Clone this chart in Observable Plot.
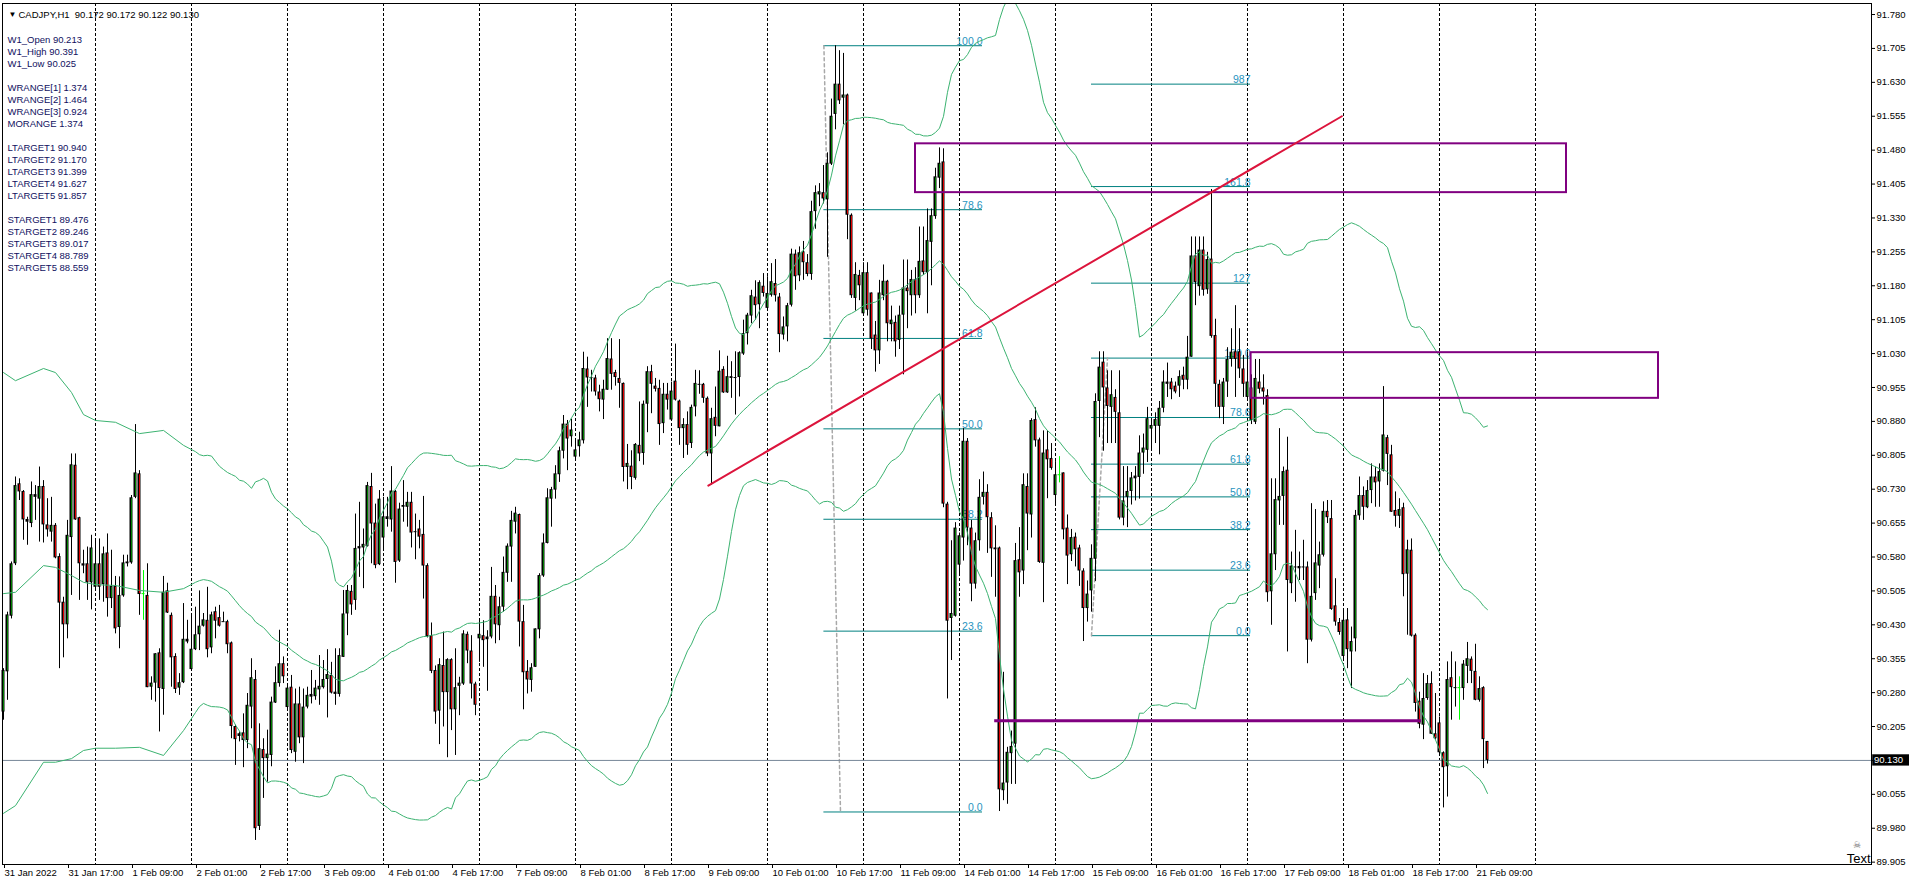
<!DOCTYPE html>
<html><head><meta charset="utf-8">
<script src="https://cdn.jsdelivr.net/npm/d3@7"></script>
<script src="https://cdn.jsdelivr.net/npm/@observablehq/plot@0.6"></script>
<style>
html,body{margin:0;padding:0;background:#fff;}
#chart{width:1912px;height:885px;}
</style></head><body><div id="chart"></div>
<script>
// ---------- DATA (CADJPY H1, bar index 0 = 31 Jan 2022) ----------
const opens = [
90.237,90.326,90.449,90.565,90.742,90.725,90.663,90.654,90.712,90.708,
90.736,90.651,90.635,90.650,90.581,90.480,90.430,90.623,90.783,90.667,
90.565,90.565,90.523,90.513,90.565,90.519,90.589,90.488,90.515,90.424,
90.494,90.569,90.567,90.712,90.764,90.499,90.495,90.292,90.301,90.368,
90.287,90.505,90.451,90.360,90.290,90.302,90.398,90.331,90.375,90.408,
90.427,90.440,90.379,90.459,90.446,90.438,90.437,90.390,90.205,90.183,
90.191,90.174,90.248,90.309,89.984,90.154,90.134,90.141,90.257,90.300,
90.344,90.247,90.292,90.148,90.255,90.180,90.248,90.270,90.271,90.286,
90.291,90.309,90.318,90.281,90.276,90.358,90.454,90.504,90.484,90.598,
90.600,90.603,90.736,90.655,90.563,90.622,90.663,90.662,90.725,90.571,
90.690,90.690,90.701,90.636,90.642,90.630,90.561,90.406,90.329,90.239,
90.340,90.280,90.353,90.242,90.294,90.299,90.409,90.372,90.299,90.399,
90.406,90.397,90.403,90.493,90.428,90.469,90.544,90.602,90.657,90.674,
90.437,90.327,90.307,90.336,90.419,90.538,90.610,90.708,90.728,90.762,
90.814,90.874,90.846,90.801,90.824,90.837,90.996,90.977,90.976,90.945,
90.927,90.949,91.018,90.988,90.975,90.964,90.778,90.781,90.754,90.827,
90.809,90.918,90.990,90.958,90.953,90.875,90.940,90.883,90.969,90.925,
90.864,90.873,90.831,90.912,90.962,90.962,90.931,90.808,90.889,90.868,
90.995,90.943,90.975,90.977,90.977,91.029,91.074,91.113,91.155,91.138,
91.179,91.130,91.159,91.185,91.155,91.071,91.089,91.137,91.250,91.202,
91.255,91.231,91.205,91.344,91.381,91.386,91.370,91.449,91.559,91.626,
91.595,91.602,91.336,91.152,91.203,91.118,91.209,91.164,91.071,91.036,
91.158,91.190,91.094,91.099,91.059,91.115,91.175,91.158,91.194,91.158,
91.235,91.209,91.276,91.333,91.418,91.454,90.697,90.444,90.449,90.562,
90.622,90.836,90.644,90.520,90.616,90.712,90.723,90.667,90.600,90.600,
90.063,90.080,90.145,90.166,90.574,90.549,90.736,90.673,90.884,90.839,
90.566,90.817,90.798,90.716,90.762,90.766,90.644,90.585,90.624,90.600,
90.549,90.466,90.505,90.575,90.924,91.011,90.954,90.911,90.933,90.899,
90.666,90.712,90.725,90.759,90.756,90.810,90.816,90.863,90.869,90.869,
90.909,90.967,90.967,90.958,90.958,90.982,90.971,91.022,91.246,91.178,
91.259,91.171,91.239,91.070,90.962,90.911,90.967,91.017,91.034,91.034,
90.996,90.933,90.954,90.878,90.967,90.954,90.937,90.503,90.585,90.704,
90.714,90.772,90.521,90.559,90.559,90.558,90.558,90.396,90.499,90.560,
90.584,90.681,90.665,90.472,90.435,90.360,90.441,90.370,90.399,90.671,
90.716,90.689,90.727,90.757,90.746,90.770,90.844,90.806,90.683,90.670,
90.689,90.542,90.595,90.407,90.261,90.208,90.267,90.300,90.189,90.213,
90.147,90.116,90.313,90.293,90.291,90.289,90.338,90.354,90.327,90.263,
90.291,90.172];
const highs = [
90.333,90.458,90.569,90.757,90.753,90.727,90.668,90.746,90.738,90.779,
90.749,90.709,90.712,90.654,90.587,90.491,90.661,90.808,90.808,90.668,
90.595,90.602,90.628,90.620,90.620,90.602,90.631,90.595,90.537,90.536,
90.584,90.584,90.716,90.873,90.771,90.550,90.565,90.315,90.366,90.377,
90.537,90.522,90.456,90.366,90.322,90.477,90.440,90.451,90.469,90.505,
90.455,90.513,90.458,90.469,90.473,90.458,90.440,90.392,90.208,90.193,
90.233,90.278,90.355,90.329,90.211,90.178,90.197,90.270,90.337,90.418,
90.359,90.300,90.318,90.288,90.292,90.288,90.292,90.329,90.307,90.362,
90.351,90.375,90.347,90.377,90.377,90.506,90.517,90.517,90.675,90.701,
90.642,90.745,90.765,90.697,90.727,90.712,90.712,90.780,90.727,90.699,
90.749,90.723,90.723,90.675,90.661,90.714,90.565,90.434,90.339,90.355,
90.414,90.355,90.355,90.377,90.314,90.417,90.414,90.406,90.303,90.439,
90.439,90.417,90.557,90.517,90.491,90.580,90.609,90.681,90.690,90.675,
90.473,90.351,90.344,90.421,90.543,90.631,90.731,90.734,90.782,90.823,
90.893,90.882,90.885,90.837,90.856,91.033,91.022,90.993,90.982,90.960,
90.971,91.063,91.063,90.993,91.061,90.965,90.829,90.815,90.831,90.923,
90.925,91.001,91.004,90.975,90.971,90.964,90.964,90.967,91.051,90.927,
90.886,90.901,90.916,90.993,90.992,90.964,90.934,90.909,90.956,91.036,
91.001,91.024,91.012,91.034,91.034,91.104,91.119,91.170,91.191,91.191,
91.207,91.200,91.229,91.238,91.163,91.111,91.141,91.261,91.259,91.266,
91.278,91.249,91.367,91.401,91.406,91.446,91.474,91.593,91.711,91.700,
91.694,91.604,91.339,91.231,91.214,91.231,91.231,91.164,91.101,91.192,
91.226,91.192,91.135,91.113,91.135,91.237,91.237,91.214,91.220,91.310,
91.310,91.350,91.350,91.440,91.485,91.483,90.701,90.616,90.656,90.633,
90.864,90.842,90.661,90.633,90.751,90.768,90.740,90.678,90.649,90.602,
90.325,90.159,90.195,90.610,90.645,90.764,90.764,90.886,90.910,90.843,
90.859,90.859,90.831,90.791,90.802,90.766,90.673,90.641,90.633,90.606,
90.554,90.527,90.607,90.941,91.034,91.034,90.992,90.992,90.950,90.992,
90.780,90.780,90.767,90.780,90.848,90.852,90.911,90.882,90.899,90.924,
90.992,91.009,90.975,90.967,90.992,91.000,91.068,91.288,91.288,91.288,
91.288,91.254,91.393,91.106,90.971,90.975,91.043,91.085,91.136,91.085,
91.026,91.034,90.983,91.017,91.017,90.983,90.950,90.753,90.753,90.864,
90.779,90.845,90.591,90.639,90.591,90.617,90.569,90.698,90.685,90.613,
90.702,90.705,90.705,90.532,90.444,90.466,90.466,90.425,90.683,90.757,
90.735,90.749,90.786,90.779,90.786,90.957,90.849,90.827,90.724,90.709,
90.699,90.617,90.620,90.410,90.281,90.322,90.318,90.326,90.278,90.226,
90.149,90.348,90.370,90.348,90.315,90.351,90.391,90.359,90.387,90.315,
90.293,90.172];
const lows = [
90.219,90.263,90.443,90.561,90.705,90.617,90.606,90.645,90.661,90.613,
90.611,90.624,90.613,90.576,90.333,90.357,90.399,90.495,90.661,90.484,
90.543,90.484,90.463,90.510,90.484,90.480,90.447,90.466,90.410,90.377,
90.491,90.558,90.564,90.709,90.451,90.440,90.291,90.263,90.259,90.193,
90.230,90.455,90.292,90.278,90.274,90.300,90.388,90.329,90.373,90.373,
90.425,90.357,90.366,90.399,90.425,90.436,90.366,90.178,90.119,90.171,
90.114,90.156,90.200,89.953,89.975,90.046,90.082,90.116,90.256,90.292,
90.300,90.241,90.145,90.126,90.167,90.123,90.244,90.255,90.263,90.252,
90.288,90.224,90.277,90.252,90.270,90.358,90.406,90.451,90.462,90.535,
90.510,90.602,90.565,90.554,90.561,90.594,90.646,90.635,90.522,90.568,
90.657,90.646,90.600,90.574,90.598,90.487,90.401,90.322,90.210,90.165,
90.204,90.136,90.196,90.141,90.229,90.296,90.344,90.266,90.229,90.347,
90.336,90.283,90.399,90.388,90.395,90.458,90.524,90.524,90.631,90.381,
90.242,90.277,90.281,90.336,90.399,90.535,90.609,90.646,90.708,90.745,
90.797,90.771,90.823,90.793,90.801,90.830,90.911,90.945,90.936,90.901,
90.884,90.949,90.949,90.958,90.909,90.746,90.729,90.729,90.750,90.791,
90.783,90.855,90.897,90.945,90.827,90.853,90.905,90.881,90.925,90.827,
90.798,90.805,90.820,90.890,90.940,90.920,90.802,90.739,90.846,90.868,
90.942,90.942,90.931,90.894,90.934,91.026,91.049,91.096,91.104,91.085,
91.155,91.126,91.155,91.144,91.032,91.060,91.056,91.133,91.170,91.189,
91.192,91.200,91.192,91.305,91.355,91.361,91.243,91.446,91.525,91.581,
91.536,91.282,91.152,91.124,91.147,91.113,91.113,91.039,90.989,91.006,
91.147,91.056,91.056,91.022,91.039,90.983,91.085,91.113,91.118,91.152,
91.203,91.118,91.180,91.327,91.395,90.689,90.266,90.351,90.447,90.543,
90.571,90.605,90.481,90.509,90.593,90.695,90.588,90.535,90.491,90.017,
90.041,90.033,90.077,90.077,90.491,90.519,90.594,90.622,90.823,90.566,
90.479,90.709,90.772,90.697,90.744,90.618,90.519,90.570,90.558,90.515,
90.393,90.436,90.458,90.526,90.844,90.814,90.831,90.831,90.831,90.662,
90.649,90.645,90.695,90.704,90.708,90.763,90.789,90.814,90.831,90.806,
90.899,90.933,90.928,90.941,90.933,90.950,90.950,91.022,91.136,91.157,
91.157,91.161,91.064,90.911,90.886,90.873,90.933,91.000,90.933,90.975,
90.933,90.924,90.873,90.873,90.941,90.916,90.480,90.429,90.550,90.650,
90.650,90.370,90.499,90.480,90.528,90.528,90.344,90.392,90.484,90.510,
90.580,90.654,90.462,90.427,90.407,90.355,90.333,90.289,90.370,90.661,
90.661,90.687,90.698,90.690,90.690,90.768,90.738,90.679,90.646,90.643,
90.492,90.407,90.403,90.237,90.200,90.176,90.263,90.188,90.175,90.141,
90.025,90.049,90.219,90.248,90.219,90.263,90.300,90.300,90.262,90.259,
90.112,90.122];
const closes = [
90.329,90.452,90.565,90.738,90.724,90.662,90.657,90.718,90.718,90.736,
90.651,90.640,90.650,90.578,90.478,90.430,90.628,90.784,90.662,90.565,
90.560,90.523,90.600,90.565,90.513,90.587,90.488,90.515,90.421,90.495,
90.567,90.565,90.711,90.766,90.497,90.499,90.291,90.301,90.366,90.289,
90.502,90.456,90.357,90.287,90.302,90.398,90.392,90.376,90.408,90.427,
90.441,90.375,90.452,90.438,90.427,90.437,90.386,90.205,90.176,90.189,
90.174,90.252,90.313,89.979,90.156,90.134,90.144,90.259,90.302,90.344,
90.315,90.290,90.152,90.255,90.180,90.248,90.274,90.276,90.290,90.294,
90.309,90.320,90.279,90.276,90.362,90.454,90.506,90.474,90.599,90.603,
90.608,90.738,90.653,90.561,90.708,90.669,90.669,90.726,90.568,90.686,
90.694,90.701,90.633,90.636,90.624,90.560,90.404,90.327,90.237,90.342,
90.280,90.353,90.242,90.291,90.301,90.410,90.372,90.299,90.252,90.409,
90.395,90.403,90.493,90.430,90.470,90.546,90.604,90.661,90.677,90.436,
90.324,90.308,90.335,90.421,90.539,90.611,90.711,90.729,90.764,90.815,
90.874,90.841,90.861,90.817,90.839,90.997,90.976,90.977,90.945,90.928,
90.951,91.019,90.984,90.977,90.964,90.778,90.787,90.756,90.829,90.808,
90.918,90.990,90.962,90.951,90.873,90.940,90.927,90.947,90.927,90.864,
90.873,90.827,90.911,90.964,90.962,90.931,90.808,90.886,90.869,90.991,
90.943,90.979,90.979,90.977,91.032,91.074,91.115,91.158,91.136,91.187,
91.163,91.163,91.189,91.158,91.072,91.089,91.136,91.250,91.200,91.253,
91.231,91.205,91.344,91.386,91.388,91.372,91.451,91.555,91.626,91.589,
91.602,91.336,91.158,91.205,91.180,91.209,91.126,91.062,91.036,91.164,
91.190,91.096,91.104,91.056,91.115,91.175,91.167,91.194,91.158,91.234,
91.209,91.280,91.335,91.421,91.451,90.697,90.438,90.455,90.644,90.627,
90.836,90.644,90.520,90.616,90.712,90.723,90.667,90.598,90.596,90.065,
90.080,90.148,90.161,90.572,90.545,90.740,90.675,90.882,90.837,90.568,
90.810,90.795,90.776,90.762,90.762,90.640,90.582,90.623,90.596,90.549,
90.466,90.498,90.577,90.924,91.000,90.954,90.913,90.939,90.900,90.666,
90.704,90.725,90.755,90.753,90.810,90.821,90.886,90.871,90.884,90.909,
90.967,90.962,90.950,90.945,90.979,90.971,91.022,91.246,91.187,91.259,
91.170,91.238,91.068,90.962,90.911,90.967,91.017,91.033,91.017,90.996,
90.962,90.967,90.882,90.975,90.951,90.945,90.501,90.587,90.707,90.714,
90.769,90.528,90.560,90.558,90.554,90.558,90.396,90.493,90.567,90.585,
90.681,90.667,90.464,90.436,90.413,90.440,90.375,90.393,90.672,90.716,
90.690,90.727,90.757,90.744,90.769,90.850,90.807,90.679,90.670,90.685,
90.541,90.596,90.405,90.256,90.210,90.267,90.300,90.188,90.178,90.147,
90.114,90.309,90.291,90.291,90.291,90.343,90.355,90.327,90.263,90.289,
90.176,90.130];
const limeDojiBars = [35, 264, 364];

// time axis
const xLabelBars = [0,16,32,48,64,80,96,112,128,144,160,176,192,208,224,240,256,272,288,304,320,336,352,368];
const xLabels = ["31 Jan 2022","31 Jan 17:00","1 Feb 09:00","2 Feb 01:00","2 Feb 17:00","3 Feb 09:00",
  "4 Feb 01:00","4 Feb 17:00","7 Feb 09:00","8 Feb 01:00","8 Feb 17:00","9 Feb 09:00","10 Feb 01:00",
  "10 Feb 17:00","11 Feb 09:00","14 Feb 01:00","14 Feb 17:00","15 Feb 09:00","16 Feb 01:00","16 Feb 17:00",
  "17 Feb 09:00","18 Feb 01:00","18 Feb 17:00","21 Feb 09:00"];
const gridBars = [23,47,71,95,119,143,167,191,215,239,263,287,311,335,359,383];
// price axis
const yTicks = [89.905,89.980,90.055,90.130,90.205,90.280,90.355,90.430,90.505,90.580,90.655,90.730,
  90.805,90.880,90.955,91.030,91.105,91.180,91.255,91.330,91.405,91.480,91.555,91.630,91.705,91.780];

// Bollinger bands (50, 2): first bars, rest from the closes
const bandPeriod = 50, bandDev = 2;
const bandStartBars   = [0, 3, 10, 13, 17, 20, 23, 28, 34, 40, 45, 48];
const bandStartUpper  = [90.988,90.970,90.997,90.988,90.944,90.895,90.882,90.878,90.853,90.860,90.827,90.813];
const bandStartMiddle = [90.499,90.502,90.561,90.557,90.539,90.524,90.519,90.517,90.506,90.502,90.510,90.524];
const bandStartLower  = [90.013,90.030,90.126,90.126,90.134,90.152,90.157,90.157,90.159,90.141,90.196,90.236];

// Fibonacci retracements
const fib1Ratios = [0, 23.6, 38.2, 50, 61.8, 78.6, 100];
const fib1Labels = ["0.0","23.6","38.2","50.0","61.8","78.6","100.0"];
const fib1High = 91.711, fib1Low = 90.016;
const fib1Bars = [205.1, 244.75];
const fib1AnchorBars = [205.1, 209.25];
const fib2Ratios = [0, 23.6, 38.2, 50, 61.8, 78.6, 100, 127, 161.8, 198.7];
const fib2Labels = ["0.0","23.6","38.2","50.0","61.8","78.6","100.0","127","161.8","987"];
const fib2High = 91.020, fib2Low = 90.406;
const fib2Bars = [272, 311.75];
const fib2AnchorBars = [272, 276];

// drawn objects
const trendBars = [176.2, 334.6], trendPrices = [90.738, 91.555];
const zone1Bars = [228, 390.75], zone1Prices = [91.386, 91.494];
const zone2Bars = [311.9, 413.75], zone2Prices = [90.931, 91.032];
const supportBars = [247.8, 354.5], supportPrice = 90.218;

const headerText = "CADJPY,H1\u00a0\u00a090.172 90.172 90.122 90.130";
const commentLines = ["W1_Open 90.213","W1_High 90.391","W1_Low 90.025","",
  "WRANGE[1] 1.374","WRANGE[2] 1.464","WRANGE[3] 0.924","MORANGE 1.374","",
  "LTARGET1 90.940","LTARGET2 91.170","LTARGET3 91.399","LTARGET4 91.627","LTARGET5 91.857","",
  "STARGET1 89.476","STARGET2 89.246","STARGET3 89.017","STARGET4 88.789","STARGET5 88.559"];

// ---------- BUILD ----------
const bars = d3.range(opens.length).map(i => ({i, o: opens[i], h: highs[i], l: lows[i], c: closes[i],
  lime: limeDojiBars.includes(i)}));
const bodies = bars.filter(d => Math.abs(d.o - d.c) >= 0.0025);
const inner = bars.filter(d => Math.abs(d.o - d.c) >= 0.0068);
const dojis = bars.filter(d => Math.abs(d.o - d.c) < 0.0025);

const bandRows = bandStartBars.map((b, k) => ({i: b, u: bandStartUpper[k], m: bandStartMiddle[k], l: bandStartLower[k]}));
for (let i = bandPeriod - 1; i < closes.length; i++) {
  const w = closes.slice(i - bandPeriod + 1, i + 1);
  const m = d3.mean(w);
  const sd = Math.sqrt(d3.mean(w, v => (v - m) ** 2));
  bandRows.push({i, u: m + bandDev * sd, m, l: m - bandDev * sd});
}

const fib1 = fib1Ratios.map((r, k) => ({p: fib1Low + r / 100 * (fib1High - fib1Low), t: fib1Labels[k]}));
const fib2 = fib2Ratios.map((r, k) => ({p: fib2Low + r / 100 * (fib2High - fib2Low), t: fib2Labels[k]}));
const labelMap = new Map(xLabelBars.map((b, k) => [b, xLabels[k]]));
const lastClose = closes[closes.length - 1];

const GREEN = "#008000", RED = "#e00000", LIME = "#00ff00", BAND = "#3cb371";
const TEAL = "#008080", FIBTXT = "#2894c0", PURPLE = "#800080";

const marks = [
  Plot.ruleX(gridBars, {x: d => d, stroke: "black", strokeDasharray: "3,2"}),
  // fibs (background)
  Plot.ruleY(fib1, {y: "p", x1: fib1Bars[0], x2: fib1Bars[1], stroke: TEAL}),
  Plot.text(fib1, {y: "p", x: fib1Bars[1], text: "t", textAnchor: "end", lineAnchor: "bottom", dy: -1, fill: FIBTXT, fontSize: 10.5, letterSpacing: "0.3px"}),
  Plot.line([[fib1AnchorBars[0], fib1High], [fib1AnchorBars[1], fib1Low]], {x: d => d[0], y: d => d[1], stroke: "#a8a8a8", strokeDasharray: "3,3"}),
  Plot.ruleY(fib2, {y: "p", x1: fib2Bars[0], x2: fib2Bars[1], stroke: TEAL}),
  Plot.text(fib2, {y: "p", x: fib2Bars[1], text: "t", textAnchor: "end", lineAnchor: "bottom", dy: -1, fill: FIBTXT, fontSize: 10.5, letterSpacing: "0.3px"}),
  Plot.line([[fib2AnchorBars[0], fib2Low], [fib2AnchorBars[1], fib2High]], {x: d => d[0], y: d => d[1], stroke: "#a8a8a8", strokeDasharray: "3,3"}),
  // bid line
  Plot.ruleY([lastClose], {y: d => d, stroke: "#778899"}),
  // candles
  Plot.ruleX(bars, {x: "i", y1: "l", y2: "h", stroke: d => d.lime ? LIME : "black"}),
  Plot.rect(bodies, {x1: d => d.i - 0.375, x2: d => d.i + 0.375, y1: d => Math.max(d.o, d.c), y2: d => Math.min(d.o, d.c), fill: "black"}),
  Plot.ruleX(inner, {x: "i", y1: d => Math.max(d.o, d.c), y2: d => Math.min(d.o, d.c), stroke: d => d.c > d.o ? GREEN : RED, insetTop: 1, insetBottom: 1}),
  Plot.ruleY(dojis, {y: "c", x1: d => d.i - 0.375, x2: d => d.i + 0.375, stroke: d => d.lime ? LIME : "black"}),
  // bands
  Plot.line(bandRows, {x: "i", y: "u", stroke: BAND, strokeWidth: 1, clip: true}),
  Plot.line(bandRows, {x: "i", y: "m", stroke: BAND, strokeWidth: 1, clip: true}),
  Plot.line(bandRows, {x: "i", y: "l", stroke: BAND, strokeWidth: 1, clip: true}),
  // objects
  Plot.rect([0], {x1: zone1Bars[0], x2: zone1Bars[1], y1: zone1Prices[0], y2: zone1Prices[1], fill: "none", stroke: PURPLE, strokeWidth: 2, clip: true}),
  Plot.rect([0], {x1: zone2Bars[0], x2: zone2Bars[1], y1: zone2Prices[0], y2: zone2Prices[1], fill: "none", stroke: PURPLE, strokeWidth: 2, clip: true}),
  Plot.ruleY([supportPrice], {y: d => d, x1: supportBars[0], x2: supportBars[1], stroke: PURPLE, strokeWidth: 3}),
  Plot.line([[trendBars[0], trendPrices[0]], [trendBars[1], trendPrices[1]]], {x: d => d[0], y: d => d[1], stroke: "#dc143c", strokeWidth: 2}),
  Plot.frame({stroke: "black"}),
  Plot.axisX(xLabelBars, {anchor: "bottom", tickSize: 4, tickPadding: 1, textAnchor: "start", dx: 1, tickFormat: d => labelMap.get(d), label: null, fontSize: 9.5}),
  Plot.axisY(yTicks, {anchor: "right", tickSize: 3, tickPadding: 2, tickFormat: d => d.toFixed(3), label: null, fontSize: 9.5}),
  // bid label
  Plot.rect([0], {x1: 467.3, x2: 476.5, y1: lastClose + 0.0125, y2: lastClose - 0.0125, fill: "black"}),
  Plot.text([lastClose], {x: 467.6, y: d => d, text: d => d.toFixed(3), fill: "white", textAnchor: "start", fontSize: 9.5}),
  // header & comments
  Plot.text(["\u25BC"], {frameAnchor: "top-left", dx: 6, dy: 7.5, fontSize: 8, textAnchor: "start", fill: "black"}),
  Plot.text([headerText], {frameAnchor: "top-left", dx: 16, dy: 7.5, fontSize: 9.5, textAnchor: "start", fill: "black"}),
  ...commentLines.map((t, k) => t ? Plot.text([t], {frameAnchor: "top-left", dx: 5, dy: 33 + 12 * k, fontSize: 9.5, textAnchor: "start", fill: "#101060"}) : null).filter(Boolean),
  Plot.text(["Text"], {frameAnchor: "bottom-right", dx: -1, dy: -2, textAnchor: "end", lineAnchor: "bottom", fontSize: 13, fill: "black"}),
  Plot.text(["\u2620"], {frameAnchor: "bottom-right", dx: -11, dy: -17, fontSize: 9, fill: "#666"})
];

const chart = Plot.plot({
  width: 1912, height: 885,
  marginTop: 3, marginLeft: 2, marginRight: 41, marginBottom: 21,
  x: {type: "linear", domain: [-0.25, 467]},
  y: {type: "linear", domain: [89.8998, 91.8044]},
  style: {fontFamily: "'Liberation Sans', Arial, sans-serif", fontSize: "9.5px", background: "white", color: "black", overflow: "visible"},
  marks
});
document.getElementById("chart").appendChild(chart);
</script></body></html>
